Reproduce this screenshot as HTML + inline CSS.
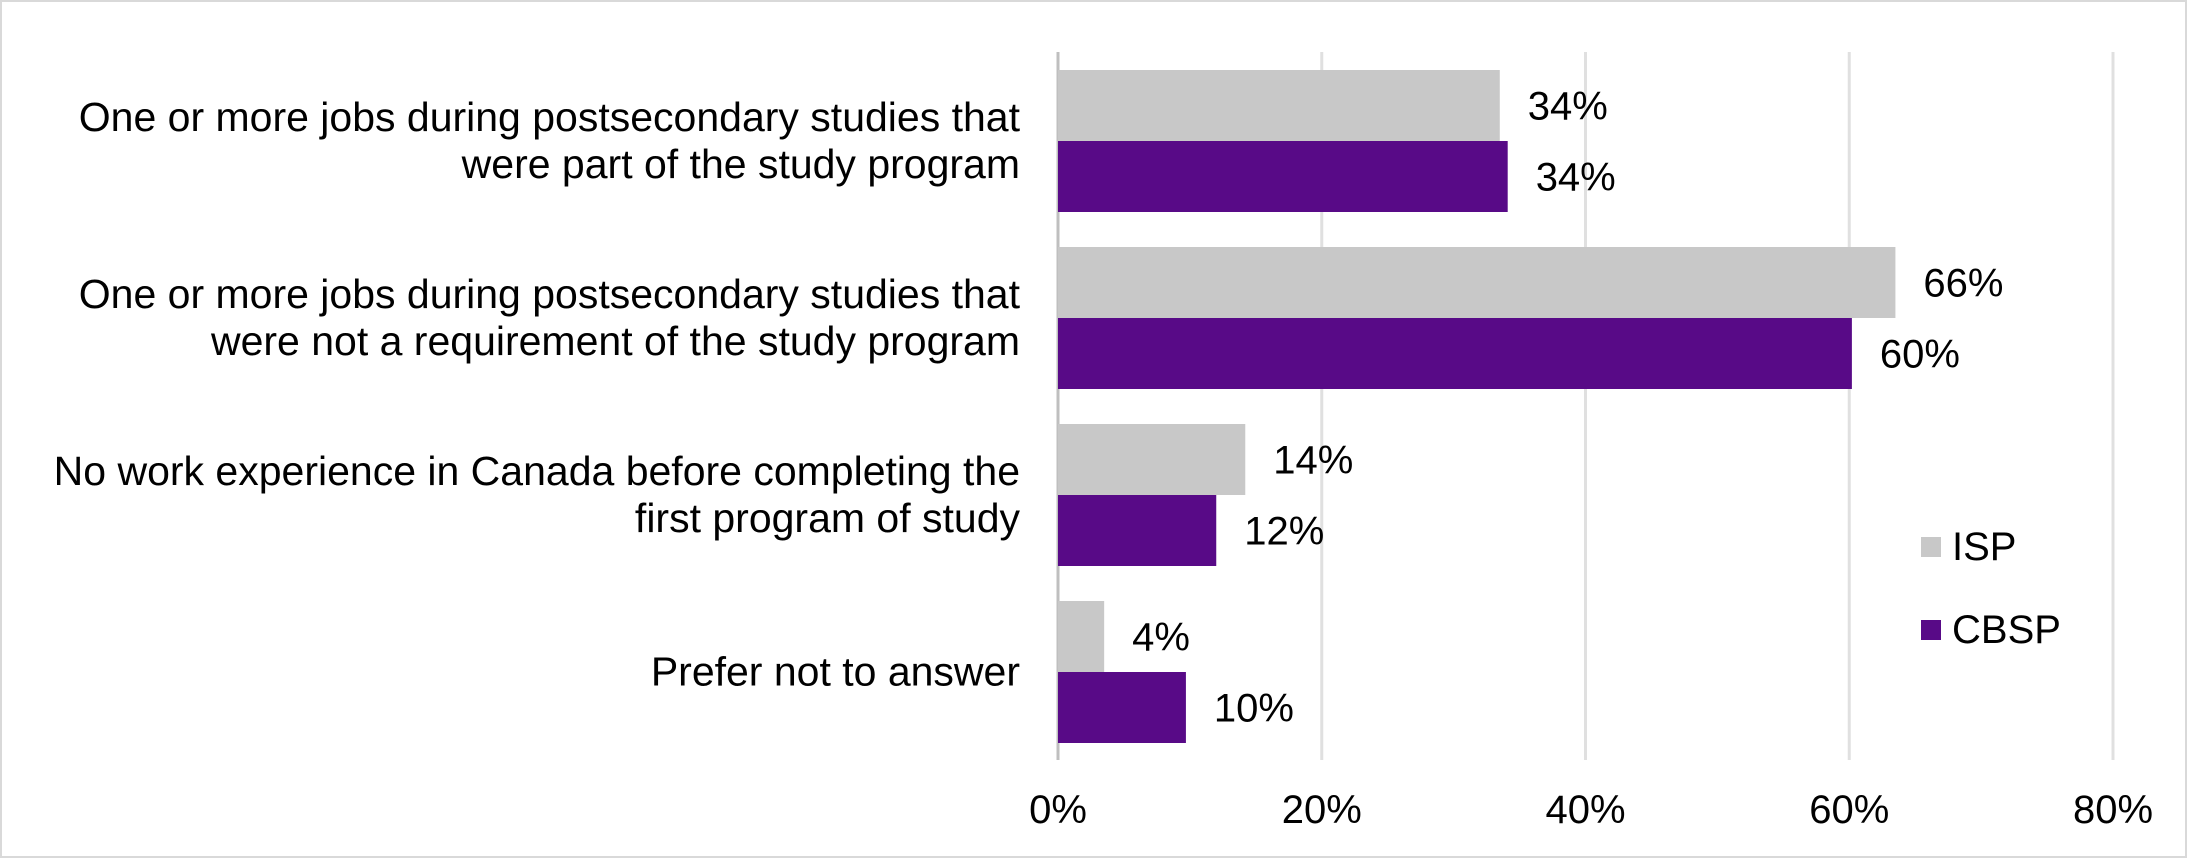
<!DOCTYPE html>
<html><head><meta charset="utf-8"><style>
html,body{margin:0;padding:0;background:#fff}
svg{display:block;font-family:"Liberation Sans",Arial,sans-serif}
</style></head><body>
<svg id="chart" width="2188" height="859" viewBox="0 0 2188 859" xmlns="http://www.w3.org/2000/svg">
<rect x="1" y="1" width="2185" height="856" fill="#fff" stroke="#d9d9d9" stroke-width="2"/>
<g id="grid"></g><g id="bars"></g><g id="labels"></g><g id="ticks"></g>
<g>
<rect x="1921" y="537" width="20" height="20" fill="#c8c8c8"/>
<text x="1952" y="560" font-size="40">ISP</text>
<rect x="1921" y="620" width="20" height="20" fill="#580a87"/>
<text x="1952" y="643" font-size="40">CBSP</text>
</g>
</svg>
<script>
const categories=[["One or more jobs during postsecondary studies that","were part of the study program"],["One or more jobs during postsecondary studies that","were not a requirement of the study program"],["No work experience in Canada before completing the","first program of study"],["Prefer not to answer"]];
const ispValues=[33.5,63.5,14.2,3.5];
const cbspValues=[34.1,60.2,12.0,9.7];
const ispLabels=["34%","66%","14%","4%"];
const cbspLabels=["34%","60%","12%","10%"];
const tickValues=[0,20,40,60,80];
const tickLabels=["0%","20%","40%","60%","80%"];

const NS="http://www.w3.org/2000/svg";
const x0=1058,x1=2113,xmax=80,plotTop=52,plotBottom=760;
const xs=v=>x0+(x1-x0)*v/xmax;
const band=(plotBottom-plotTop)/categories.length;
function mk(parent,tag,attrs,txt){const e=document.createElementNS(NS,tag);for(const k in attrs)e.setAttribute(k,attrs[k]);if(txt!==undefined)e.textContent=txt;document.getElementById(parent).appendChild(e);return e;}
tickValues.forEach((t,i)=>{
  const g=mk('grid','line',{x1:xs(t),x2:xs(t),y1:plotTop,y2:plotBottom,stroke:t===0?'#bfbfbf':'#e0e0e0','stroke-width':3});
  
  
  const tl=mk('ticks','text',{x:xs(t),y:823,'font-size':40,'text-anchor':'middle'},tickLabels[i]);
  
  
});
categories.forEach((c,i)=>{
  const bt=plotTop+band*i;const h=71;const y1=bt+18,y2=y1+h;
  const b1=mk('bars','rect',{x:x0,y:y1,width:xs(ispValues[i])-x0,height:h,fill:'#c8c8c8'});
  
  
  const b2=mk('bars','rect',{x:x0,y:y2,width:xs(cbspValues[i])-x0,height:h,fill:'#580a87'});
  
  
  const l1=mk('labels','text',{x:xs(ispValues[i])+28,y:y1+h/2+14,'font-size':40},ispLabels[i]);
  
  
  const l2=mk('labels','text',{x:xs(cbspValues[i])+28,y:y2+h/2+14,'font-size':40},cbspLabels[i]);
  
  
  const cy=bt+band/2;const lh=47;
  c.forEach((line,j)=>{
    const ct=mk('labels','text',{x:1020,y:cy+14+(j-(c.length-1)/2)*lh,'font-size':41,'text-anchor':'end'},line);
    
    
  });
});
</script>
</body></html>
